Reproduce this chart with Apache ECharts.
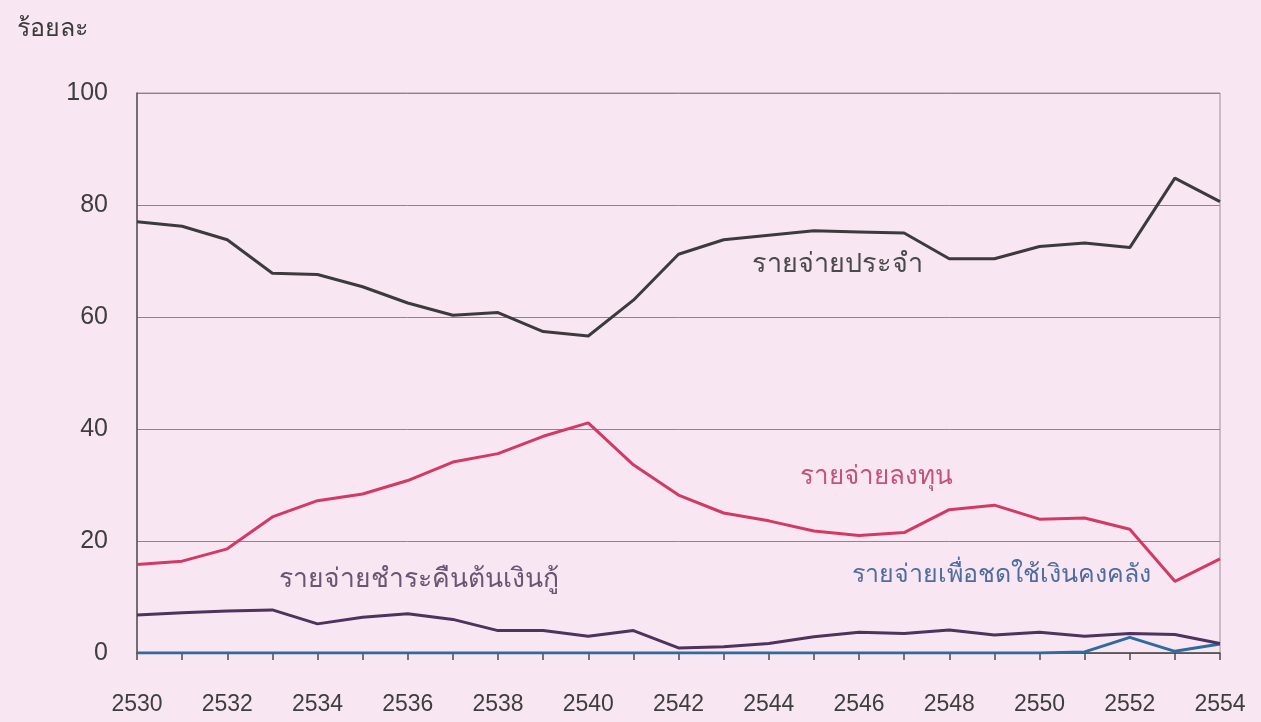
<!DOCTYPE html>
<html>
<head>
<meta charset="utf-8">
<script src="https://cdn.jsdelivr.net/npm/echarts@6/dist/echarts.min.js"></script>
<style>
html,body{margin:0;padding:0;background:#f9e6f3;}
#chart{width:1261px;height:722px;}
</style>
</head>
<body>
<div id="chart"></div>
<script>
const years = ['2530','2531','2532','2533','2534','2535','2536','2537','2538','2539','2540','2541','2542','2543','2544','2545','2546','2547','2548','2549','2550','2551','2552','2553','2554'];
const yTicks = [0, 20, 40, 60, 80, 100];
const recurrent = [77, 76.2, 73.8, 67.8, 67.6, 65.4, 62.5, 60.3, 60.8, 57.4, 56.6, 63.0, 71.2, 73.8, 74.6, 75.4, 75.2, 75.0, 70.4, 70.4, 72.6, 73.2, 72.4, 84.8, 80.6];
const capital = [15.8, 16.4, 18.6, 24.3, 27.2, 28.4, 30.8, 34.1, 35.6, 38.7, 41.1, 33.6, 28.2, 25.0, 23.6, 21.8, 21.0, 21.5, 25.6, 26.4, 23.9, 24.1, 22.1, 12.8, 16.8];
const loanRepay = [6.8, 7.2, 7.5, 7.7, 5.2, 6.4, 7.0, 6.0, 4.0, 4.0, 3.0, 4.0, 0.9, 1.1, 1.7, 2.9, 3.7, 3.5, 4.1, 3.2, 3.7, 3.0, 3.5, 3.3, 1.7];
const treasury = [0, 0, 0, 0, 0, 0, 0, 0, 0, 0, 0, 0, 0, 0, 0, 0, 0, 0, 0, 0, 0, 0.2, 2.8, 0.3, 1.6];
const seriesNames = ['รายจ่ายประจำ', 'รายจ่ายลงทุน', 'รายจ่ายชำระคืนต้นเงินกู้', 'รายจ่ายเพื่อชดใช้เงินคงคลัง'];
const yAxisTitle = 'ร้อยละ';

const FONT = '"Liberation Sans", "Noto Sans", "DejaVu Sans", sans-serif';
const chart = echarts.init(document.getElementById('chart'));
const colors = ['#3b3b3d', '#d23a64', '#4d335e', '#2c6c9e'];

function mkLine(name, data, color, z) {
  return {
    name: name, type: 'line', data: data, symbol: 'none', smooth: false, z: z,
    lineStyle: { color: color, width: 3 }, itemStyle: { color: color }
  };
}

chart.setOption({
  backgroundColor: '#f9e6f3',
  animation: false,
  textStyle: { fontFamily: FONT },
  title: {
    text: yAxisTitle, left: 12, top: 12,
    textStyle: { fontSize: 25, fontWeight: 'normal', color: '#3a3a3a', fontFamily: FONT }
  },
  grid: {
    left: 137, right: 41, top: 93, bottom: 69,
    show: true, borderColor: '#9b919a', borderWidth: 1, backgroundColor: 'transparent'
  },
  xAxis: {
    type: 'category', data: years, boundaryGap: false,
    axisLine: { lineStyle: { color: '#4a4a4a', width: 1.5 } },
    axisTick: { show: true, interval: 0, length: 7, inside: false, lineStyle: { color: '#4a4a4a', width: 1.5 } },
    axisLabel: { interval: 1, margin: 40, fontSize: 23, color: '#3e3e3e', fontFamily: FONT },
    splitLine: { show: false }
  },
  yAxis: {
    type: 'value', min: 0, max: 100, interval: 20,
    axisLine: { show: true, lineStyle: { color: '#555', width: 1.5 } },
    axisTick: { show: false },
    axisLabel: {
      margin: 29, fontSize: 25, color: '#3e3e3e', fontFamily: FONT,
      formatter: function (v) { return yTicks.indexOf(v) >= 0 ? String(v) : ''; }
    },
    splitLine: { show: true, lineStyle: { color: '#8e8490', width: 1 } }
  },
  series: [
    mkLine(seriesNames[3], treasury, colors[3], 3),
    mkLine(seriesNames[2], loanRepay, colors[2], 4),
    mkLine(seriesNames[1], capital, colors[1], 5),
    mkLine(seriesNames[0], recurrent, colors[0], 6)
  ],
  graphic: [
    { type: 'text', left: 752, top: 251, style: { text: seriesNames[0], fontSize: 27, fill: '#4a4a4c', fontFamily: FONT } },
    { type: 'text', left: 800, top: 464, style: { text: seriesNames[1], fontSize: 26, fill: '#c25479', fontFamily: FONT } },
    { type: 'text', left: 279, top: 566, style: { text: seriesNames[2], fontSize: 26.5, fill: '#6a5572', fontFamily: FONT } },
    { type: 'text', left: 852, top: 563, style: { text: seriesNames[3], fontSize: 25, fill: '#4f6d9c', fontFamily: FONT } }
  ]
});
</script>
</body>
</html>
